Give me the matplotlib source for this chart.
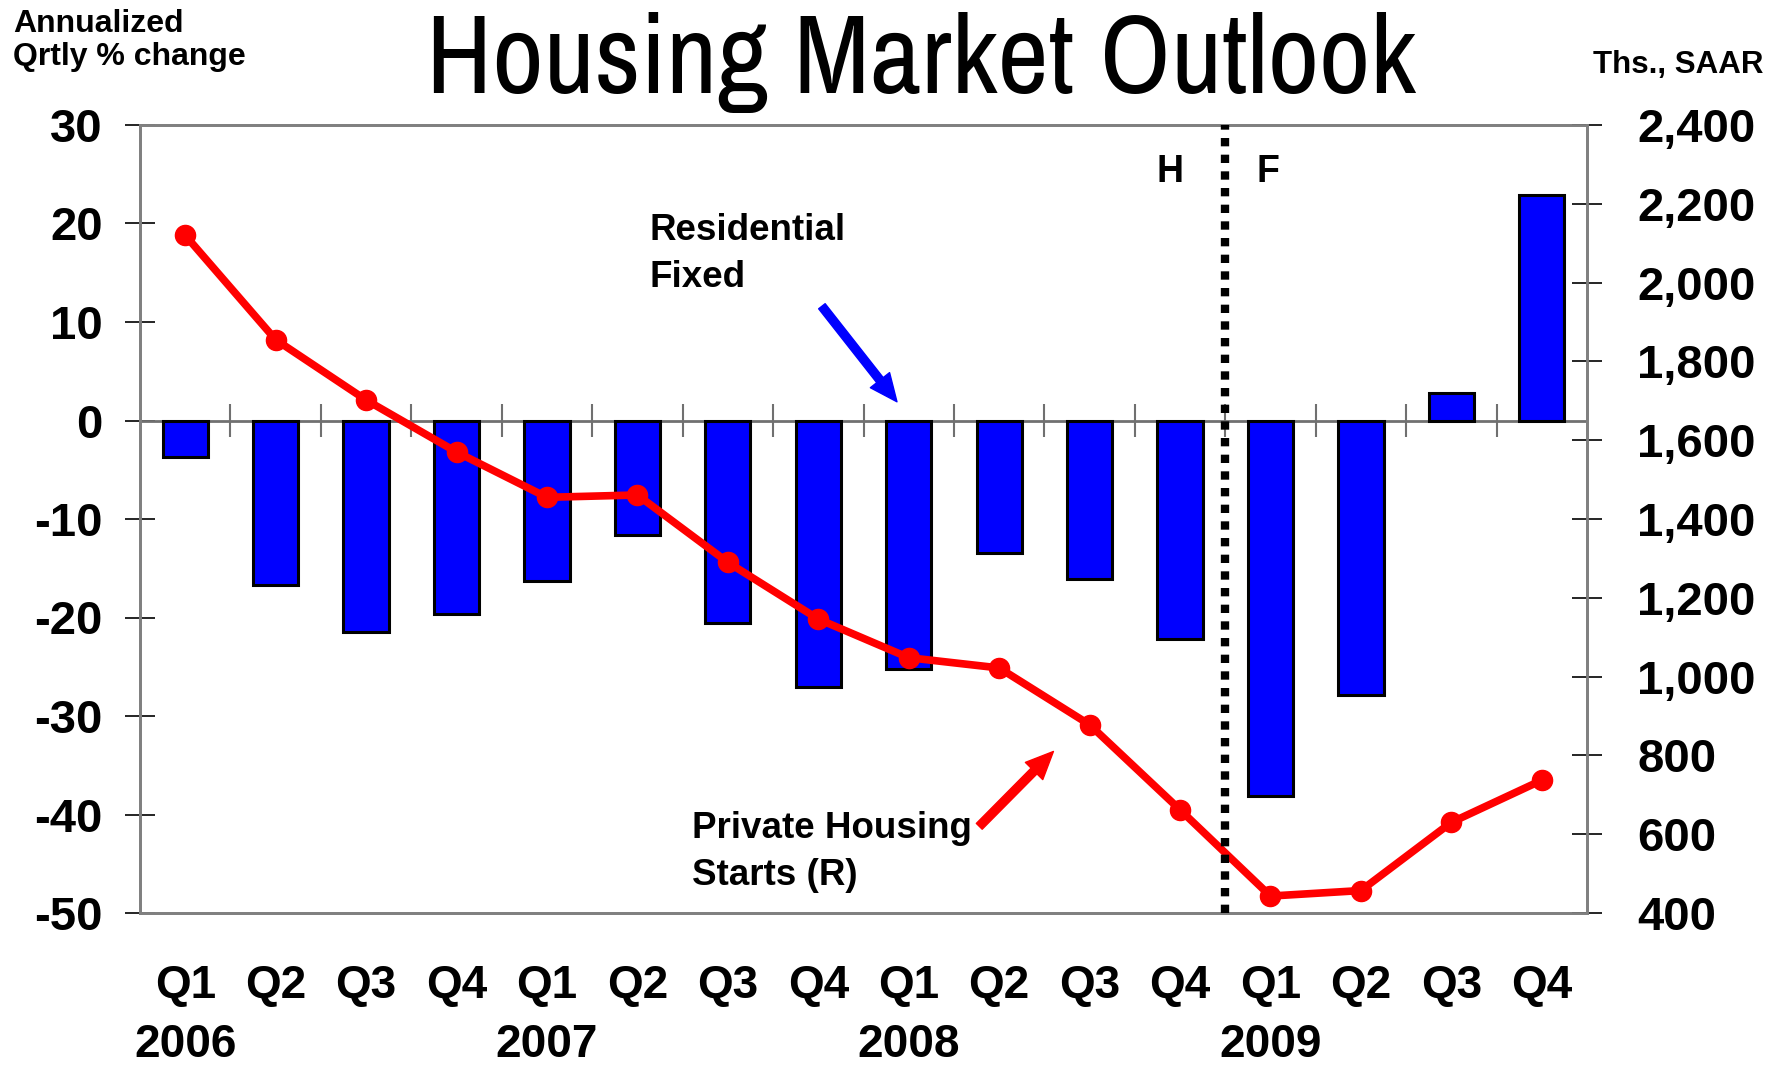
import numpy as np
import matplotlib
matplotlib.use("Agg")
import matplotlib.pyplot as plt
from matplotlib.ticker import FuncFormatter
from matplotlib import font_manager as fm

# ---- data ----
quarters = ["Q1", "Q2", "Q3", "Q4"] * 4
years = ["2006", "2007", "2008", "2009"]
residential_fixed = [-3.7, -16.7, -21.5, -19.6, -16.3, -11.6, -20.6, -27.1,
                     -25.2, -13.5, -16.1, -22.2, -38.1, -27.9, 2.8, 22.9]
housing_starts = [2120, 1855, 1702, 1570, 1455, 1461, 1290, 1146,
                  1048, 1022, 878, 662, 443, 457, 630, 737]
left_ticks = [30, 20, 10, 0, -10, -20, -30, -40, -50]
right_ticks = [400, 600, 800, 1000, 1200, 1400, 1600, 1800, 2000, 2200, 2400]
forecast_start = 11.5  # boundary between history and forecast

plt.rcParams['font.family'] = ['Liberation Sans', 'DejaVu Sans']
plt.rcParams['font.weight'] = 'bold'
plt.rcParams['axes.unicode_minus'] = False

# find a condensed font for the title
names = {f.name for f in fm.fontManager.ttflist}
title_kw = dict(family=['Liberation Sans', 'DejaVu Sans'])
narrow = sorted(n for n in names if 'Narrow' in n or 'Condensed' in n)
if narrow:
    title_kw = dict(family=[narrow[0], 'Liberation Sans'])

fig = plt.figure(figsize=(17.79, 10.68), dpi=100)
ax = fig.add_axes([140/1779, 1-913/1068, 1447/1779, 788/1068])
ax2 = ax.twinx()

x = np.arange(len(quarters))
ax.bar(x, residential_fixed, width=0.5, color='#0000FF', edgecolor='black',
       linewidth=2.2, zorder=3)
ax.axhline(0, color='#707070', lw=2, zorder=2)
ax.vlines(x[:-1] + 0.5, -1.7, 1.7, colors='#707070', lw=1.5, zorder=2)

ax.set_xlim(-0.5, len(quarters) - 0.5)
ax.set_ylim(-50, 30)
ax.set_yticks(left_ticks)
ax.set_xticks(x)
ax.set_xticklabels(quarters)
ax.tick_params(axis='x', length=0, pad=37, labelsize=33)
ax.tick_params(axis='y', direction='inout', length=22, width=1.2, pad=16,
               labelsize=34)
for lab in ax.get_xticklabels() + ax.get_yticklabels():
    lab.set_fontweight('bold')

ax2.plot(x, housing_starts, color='#FF0000', lw=5.5, marker='o', markersize=14.5,
         zorder=5)
ax2.set_ylim(400, 2400)
ax2.set_yticks(right_ticks)
ax2.yaxis.set_major_formatter(FuncFormatter(lambda v, p: f"{int(v):,}"))
ax2.tick_params(axis='y', direction='inout', length=22, width=1.2, pad=25,
                labelsize=34)
for lab in ax2.get_yticklabels():
    lab.set_fontweight('bold')

for a in (ax, ax2):
    for s in a.spines.values():
        s.set_color('#808080')
        s.set_linewidth(2)

ax2.axvline(forecast_start, color='black', lw=6, dashes=(1, 1),
            dash_capstyle='butt', zorder=6)

# year labels under Q1 of each year
for i, yr in enumerate(years):
    ax.text(i * 4, -0.1675, yr, transform=ax.get_xaxis_transform(),
            ha='center', va='center', fontsize=33, fontweight='bold')

# H / F
ax.text(10.74, 24.2, "H", ha='left', va='baseline', fontsize=27, fontweight='bold')
ax.text(11.85, 24.2, "F", ha='left', va='baseline', fontsize=27, fontweight='bold')

# annotations
ax.text(5.13, 18.32, "Residential", ha='left', va='baseline', fontsize=26.5,
        fontweight='bold')
ax.text(5.13, 13.55, "Fixed", ha='left', va='baseline', fontsize=26.5,
        fontweight='bold')
ax.annotate("", xy=(7.87, 1.9), xytext=(7.04, 11.6),
            arrowprops=dict(arrowstyle='simple,head_length=0.9,head_width=0.8,tail_width=0.27',
                            color='#0000FF', mutation_scale=22, shrinkA=0, shrinkB=0),
            zorder=7)
ax.text(5.60, -42.39, "Private Housing", ha='left', va='baseline', fontsize=26.5,
        fontweight='bold')
ax.text(5.60, -47.16, "Starts (R)", ha='left', va='baseline', fontsize=26.5,
        fontweight='bold')
ax.annotate("", xy=(9.6, -33.6), xytext=(8.78, -41.2),
            arrowprops=dict(arrowstyle='simple,head_length=0.9,head_width=0.8,tail_width=0.27',
                            color='#FF0000', mutation_scale=22, shrinkA=0, shrinkB=0),
            zorder=7)

# titles
t = fig.text(921/1779, 1-93/1068, "Housing Market Outlook", ha='center', va='baseline',
             fontsize=76, fontweight='normal', **title_kw)
fig.canvas.draw()
w = t.get_window_extent().width
target = 1004
t.set_fontsize(76 * min(target / w, 1.06))

fig.text(13/1779, 1-32/1068, "Annualized", ha='left', va='baseline', fontsize=23,
         fontweight='bold')
fig.text(13/1779, 1-65/1068, "Qrtly % change", ha='left', va='baseline', fontsize=23,
         fontweight='bold')
fig.text(1593/1779, 1-73/1068, "Ths., SAAR", ha='left', va='baseline', fontsize=22.5,
         fontweight='bold')

fig.savefig("out.png", dpi=100)
